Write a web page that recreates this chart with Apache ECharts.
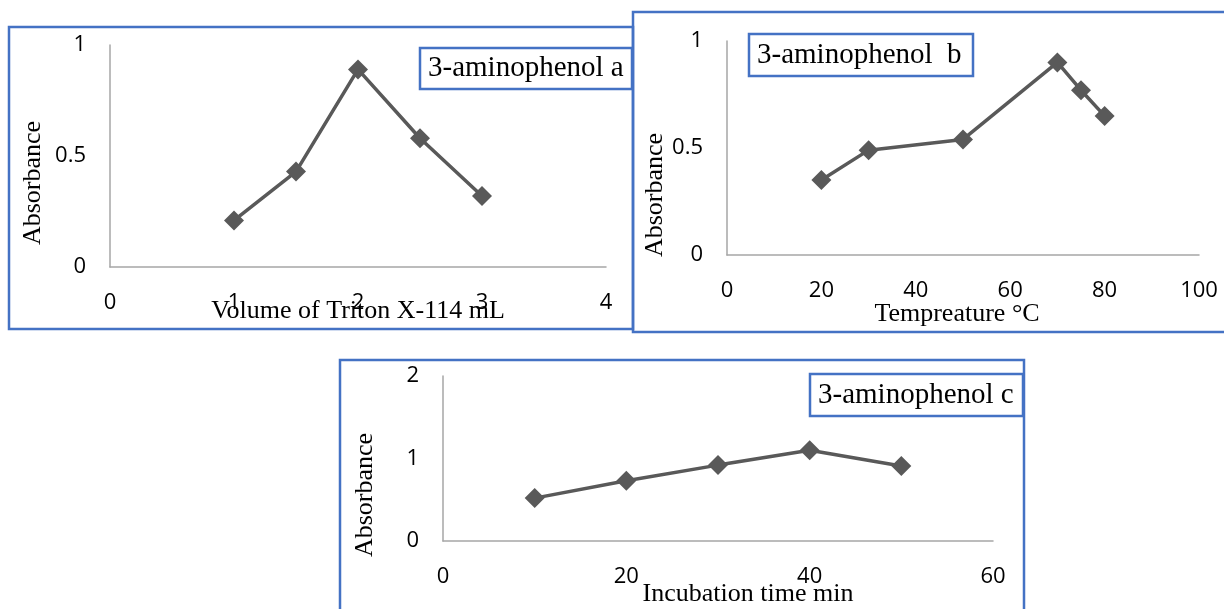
<!DOCTYPE html>
<html>
<head>
<meta charset="utf-8">
<script src="https://cdn.jsdelivr.net/npm/echarts@6/dist/echarts.min.js"></script>
<style>
  html, body { margin: 0; padding: 0; background: #fff; }
  #chart { width: 1224px; height: 609px; }
</style>
</head>
<body>
<div id="chart"></div>
<script>
  // panel a: volume of Triton X-114
  var volumeMl = [1, 1.5, 2, 2.5, 3];
  var absorbanceA = [0.21, 0.43, 0.89, 0.58, 0.32];
  // panel b: temperature
  var tempC = [20, 30, 50, 70, 75, 80];
  var absorbanceB = [0.35, 0.49, 0.54, 0.90, 0.77, 0.65];
  // panel c: incubation time
  var timeMin = [10, 20, 30, 40, 50];
  var absorbanceC = [0.52, 0.73, 0.92, 1.10, 0.91];

  var legendNames = ['3-aminophenol a', '3-aminophenol  b', '3-aminophenol c'];

  var serif = '"Liberation Serif", "DejaVu Serif", serif';
  var sans = '"Open Sans", "Noto Sans", sans-serif';
  var blue = '#4472c4';

  function pairs(xs, ys) {
    var out = [];
    for (var i = 0; i < xs.length; i++) out.push([xs[i], ys[i]]);
    return out;
  }

  function xAx(idx, max, interval, name, gap, pad) {
    return {
      type: 'value', gridIndex: idx, min: 0, max: max, interval: interval,
      name: name, nameLocation: 'middle', nameGap: gap, nameMoveOverlap: false,
      nameTextStyle: { fontFamily: serif, fontSize: 26, color: '#000', padding: pad },
      axisLine: { lineStyle: { color: '#a6a6a6', width: 1.5 } },
      axisTick: { show: false },
      splitLine: { show: false },
      axisLabel: { fontFamily: sans, fontSize: 22, color: '#000', margin: 25 }
    };
  }
  function yAx(idx, max, interval, gap, pad) {
    return {
      type: 'value', gridIndex: idx, min: 0, max: max, interval: interval,
      name: 'Absorbance', nameLocation: 'middle', nameGap: gap, nameMoveOverlap: false,
      nameTextStyle: { fontFamily: serif, fontSize: 26, color: '#000', padding: pad },
      axisLine: { show: true, lineStyle: { color: '#a6a6a6', width: 1.5 } },
      axisTick: { show: false },
      splitLine: { show: false },
      axisLabel: { fontFamily: sans, fontSize: 22, color: '#000', margin: 24 }
    };
  }
  function lineSeries(idx, data) {
    return {
      type: 'line', xAxisIndex: idx, yAxisIndex: idx, data: data,
      symbol: 'diamond', symbolSize: 20, showSymbol: true,
      lineStyle: { color: '#595959', width: 3.5 },
      itemStyle: { color: '#595959' },
      animation: false
    };
  }
  function legendBox(x, y, w, h, text) {
    return [
      { type: 'rect', shape: { x: x, y: y, width: w, height: h }, z: 10,
        style: { fill: '#fff', stroke: blue, lineWidth: 2.5 } },
      { type: 'text', x: x + 8, y: y + h / 2, z: 11,
        style: { text: text, font: '29px ' + serif, fill: '#000', verticalAlign: 'middle' } }
    ];
  }

  var chart = echarts.init(document.getElementById('chart'));
  var option = {
    animation: false,
    grid: [
      { left: 110, top: 45, width: 496, height: 222, outerBoundsMode: 'none' },
      { left: 727, top: 41, width: 472, height: 214, outerBoundsMode: 'none' },
      { left: 443, top: 376, width: 550, height: 165, outerBoundsMode: 'none' }
    ],
    xAxis: [
      xAx(0, 4, 1, 'Volume of Triton X-114 mL', 31, 0),
      xAx(1, 100, 20, 'Tempreature °C', 46, [0, 12, 0, 0]),
      xAx(2, 60, 20, 'Incubation time min', 40, [0, 0, 0, 60])
    ],
    yAxis: [
      yAx(0, 1, 0.5, 64, [0, 54, 0, 0]),
      yAx(1, 1, 0.5, 59, [0, 94, 0, 0]),
      yAx(2, 2, 1, 65, [0, 73, 0, 0])
    ],
    series: [
      lineSeries(0, pairs(volumeMl, absorbanceA)),
      lineSeries(1, pairs(tempC, absorbanceB)),
      lineSeries(2, pairs(timeMin, absorbanceC))
    ],
    graphic: [
      { type: 'rect', shape: { x: 9, y: 27, width: 624, height: 302 },
        style: { fill: 'none', stroke: blue, lineWidth: 2.5 } },
      { type: 'rect', shape: { x: 633, y: 12, width: 600, height: 320 },
        style: { fill: 'none', stroke: blue, lineWidth: 2.5 } },
      { type: 'rect', shape: { x: 340, y: 360, width: 684, height: 270 },
        style: { fill: 'none', stroke: blue, lineWidth: 2.5 } }
    ]
      .concat(legendBox(420, 48, 212, 41, legendNames[0]))
      .concat(legendBox(749, 34, 224, 42, legendNames[1]))
      .concat(legendBox(810, 374, 213, 42, legendNames[2]))
  };
  chart.setOption(option);
</script>
</body>
</html>
